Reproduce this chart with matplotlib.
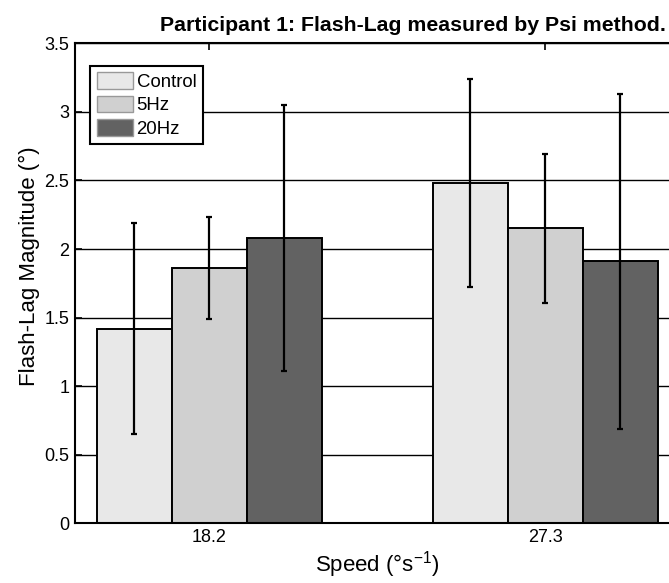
import numpy as np
import matplotlib
matplotlib.use("Agg")
import matplotlib.pyplot as plt

plt.rcParams['font.family'] = ['Liberation Sans', 'DejaVu Sans']
plt.rcParams['mathtext.fontset'] = 'custom'
plt.rcParams['mathtext.rm'] = 'Liberation Sans'
plt.rcParams['mathtext.it'] = 'Liberation Sans'

# speeds tested (deg/s) and flash-lag estimates per condition
speeds = ['18.2', '27.3']
conditions = ['Control', '5Hz', '20Hz']
control_mean = [1.42, 2.48]
control_err = [0.77, 0.76]
hz5_mean = [1.86, 2.15]
hz5_err = [0.37, 0.54]
hz20_mean = [2.08, 1.91]
hz20_err = [0.97, 1.22]

means = [control_mean, hz5_mean, hz20_mean]
errs = [control_err, hz5_err, hz20_err]
colors = ['#e8e8e8', '#d0d0d0', '#626262']

fig = plt.figure(figsize=(6.69, 5.83), dpi=100)
ax = fig.add_axes([0.1118, 0.1024, 0.904, 0.8233])

x = np.arange(1, len(speeds) + 1)
w = 0.223
for i, (m, e, c) in enumerate(zip(means, errs, colors)):
    pos = x + (i - 1) * w
    ax.bar(pos, m, width=w, color=c, edgecolor='black', linewidth=1.4,
           label=conditions[i], zorder=2)
    ax.errorbar(pos, m, yerr=e, fmt='none', ecolor='black', elinewidth=1.6,
                capsize=2.2, capthick=1.6, zorder=3)

ax.set_xlim(0.6, 2.4)
ax.set_ylim(0, 3.5)
ax.set_xticks(x)
ax.set_xticklabels(speeds)
ax.set_yticks(np.arange(0, 3.51, 0.5))
ax.set_yticklabels(['0', '0.5', '1', '1.5', '2', '2.5', '3', '3.5'])
ax.yaxis.grid(True, color='black', linewidth=1.0, linestyle='-')
ax.set_axisbelow(True)
ax.tick_params(direction='in', top=True, right=True, length=5, width=1.2,
               labelsize=13, pad=4)
for s in ax.spines.values():
    s.set_linewidth(1.5)

ax.set_ylabel('Flash-Lag Magnitude (°)', fontsize=16)
ax.yaxis.set_label_coords(-0.058, 0.535)
ax.set_xlabel('Speed (°s$^{-1}$)', fontsize=16, labelpad=2)
ax.set_title('Participant 1: Flash-Lag measured by Psi method.',
             fontsize=15.3, fontweight='bold', x=0.5595, pad=9)

leg = ax.legend(loc='upper left', bbox_to_anchor=(90 / 669, 1 - 65.7 / 583),
                bbox_transform=fig.transFigure, fontsize=13.4, frameon=True,
                fancybox=False, edgecolor='black', framealpha=1,
                handlelength=1.95, handleheight=1.0, handletextpad=0.2,
                labelspacing=0.25, borderpad=0.35, borderaxespad=0)
leg.get_frame().set_linewidth(1.5)
for h in leg.legend_handles:
    h.set_edgecolor('#999999')
    h.set_linewidth(1.0)

fig.savefig('out.png', dpi=100)
